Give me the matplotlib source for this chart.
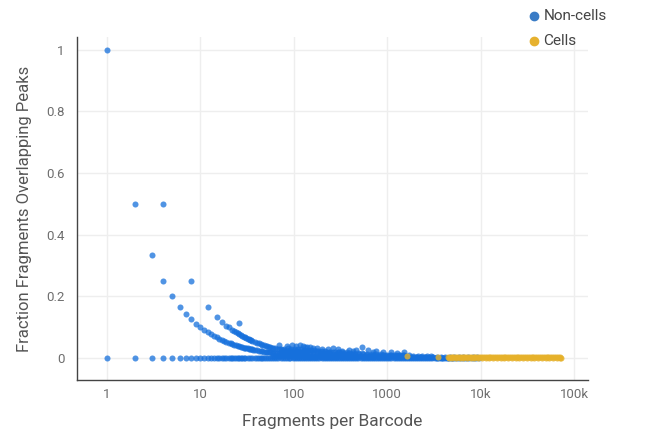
import matplotlib
matplotlib.use("Agg")
import matplotlib.pyplot as plt
from matplotlib.ticker import FixedLocator, NullLocator

plt.rcParams['font.family'] = ['Roboto', 'DejaVu Sans']

# =========================
# Données
# =========================

# Barcodes sans recouvrement (fraction = 0)
zero_x = [1, 2, 3, 4, 5, 6, 7, 8, 9, 10, 11, 12, 13, 14, 15, 16, 17, 18, 19, 20,
          21, 22, 23, 24, 25, 26, 27, 28, 29, 30, 32, 34, 36, 38, 40, 42, 44, 46,
          48, 50, 53, 56, 59, 62, 65, 68, 72, 76, 80, 84, 88, 92, 97, 102, 107,
          113, 119, 125, 132, 139, 146, 154, 162, 170, 179, 188, 198, 208, 219,
          230, 242, 255, 268, 282, 297, 312, 328, 345, 363, 382, 402, 423, 445,
          468, 492, 518, 545, 573, 603, 634, 667, 702, 738, 776, 816, 858, 903,
          950, 1000, 1050, 1110, 1170, 1230, 1290, 1360, 1430, 1500, 1580, 1660,
          1750, 1840, 1930, 2030, 2140, 2250, 2370, 2490, 2620, 2760, 2900, 3050,
          3210, 3380, 3550, 3740, 3930, 4130, 4350, 4570, 4810, 5060, 5320, 5600,
          5890, 6200, 6520, 6860, 7220, 7600, 8000, 8500, 9000, 9600]

# Points isolés (petits barcodes)
iso_x = [1, 2, 4, 3, 4, 8, 5, 6, 12, 7, 15, 8, 17, 9, 19, 26, 10, 20]
iso_y = [1.0, 0.5, 0.5, 0.333, 0.25, 0.25, 0.2, 0.167, 0.167, 0.143, 0.133,
         0.125, 0.118, 0.111, 0.105, 0.115, 0.1, 0.1]

# Courbe du bas (1 fragment dans un pic)
c1_x = [11, 12, 13, 14, 15, 16, 17, 18, 19, 20, 21, 22, 23, 24, 25, 26, 27, 28,
        29, 30, 31, 32, 33, 34, 35, 36, 37, 38, 40, 42, 44, 46, 48, 50, 52, 54,
        56, 58, 60, 63, 66, 69, 72, 75, 78, 82, 86, 90]
c1_y = [0.091, 0.083, 0.077, 0.071, 0.067, 0.063, 0.059, 0.056, 0.053, 0.05,
        0.048, 0.045, 0.043, 0.042, 0.04, 0.038, 0.037, 0.036, 0.034, 0.033,
        0.032, 0.031, 0.030, 0.029, 0.029, 0.028, 0.027, 0.026, 0.025, 0.024,
        0.023, 0.022, 0.021, 0.02, 0.019, 0.019, 0.018, 0.017, 0.017, 0.016,
        0.015, 0.014, 0.014, 0.013, 0.013, 0.012, 0.012, 0.011]

# Courbe du haut (2 fragments dans un pic)
c2_x = [22, 23, 24, 25, 26, 27, 28, 29, 30, 31, 32, 33, 34, 35, 36, 38, 40, 42,
        44, 46, 48, 50, 52, 54, 56, 58, 60, 63, 66, 69, 72, 75, 78, 82, 86, 90,
        95, 100, 105, 110, 116, 122, 130]
c2_y = [0.091, 0.087, 0.083, 0.08, 0.077, 0.074, 0.071, 0.069, 0.067, 0.065,
        0.063, 0.061, 0.059, 0.057, 0.056, 0.053, 0.05, 0.048, 0.045, 0.043,
        0.042, 0.04, 0.038, 0.037, 0.036, 0.034, 0.033, 0.032, 0.03, 0.029,
        0.028, 0.027, 0.026, 0.024, 0.023, 0.022, 0.021, 0.02, 0.019, 0.018,
        0.017, 0.016, 0.015]

# Nuage dense des non-cellules
blob_x = [60, 65, 70, 75, 80, 85, 90, 95, 100, 105, 110, 116, 122, 128, 135,
          142, 150, 160, 170, 180, 195, 210, 225, 240, 260, 280, 300, 330, 360,
          400, 440, 480, 530, 580, 640, 700, 770, 850, 940, 1040, 1150, 1270,
          1400, 1550, 1700, 1880, 2080, 2300, 2550, 2800, 3100, 3400, 3800,
          4200, 4700, 5200, 5800, 6500, 7300, 8200, 9200,
          72, 78, 84, 90, 96, 102, 108, 115, 123, 131, 140, 150, 162, 175, 190,
          205, 222, 240, 262, 285, 310, 340, 372, 410, 450, 495, 545, 600, 660,
          730, 810, 900, 1000, 1110, 1230, 1370, 1520, 1700, 1900, 2120, 2380,
          2650, 2950,
          78, 86, 94, 103, 112, 120, 130, 141, 152, 165, 180, 198, 218, 240, 265,
          295, 330, 370,
          70, 95, 116, 132, 150, 175, 265, 540, 910, 1280, 330, 430, 700,
          100, 115, 130, 150, 170, 195, 220, 250, 285, 325, 370, 420, 480, 545,
          620, 710, 810, 920, 1050, 1200, 1370, 1560, 1780, 2030, 2310, 2630,
          3000, 3420, 3900, 4450, 5000,
          90, 100, 112, 125, 140, 157, 176, 197, 220, 246, 275, 308, 345, 386,
          432, 484, 542, 607, 680, 760, 850, 950, 1060, 1190, 1330, 1490,
          85, 105, 125, 140, 160, 200, 230, 300, 390, 460, 620, 760, 1100, 1500]
blob_y = [0.006, 0.007, 0.008, 0.008, 0.009, 0.009, 0.009, 0.009, 0.009, 0.009,
          0.009, 0.009, 0.009, 0.009, 0.008, 0.008, 0.008, 0.008, 0.008, 0.008,
          0.008, 0.008, 0.007, 0.007, 0.007, 0.007, 0.007, 0.007, 0.007, 0.007,
          0.006, 0.006, 0.006, 0.006, 0.006, 0.006, 0.006, 0.005, 0.005, 0.005,
          0.005, 0.005, 0.005, 0.005, 0.004, 0.004, 0.004, 0.004, 0.004, 0.004,
          0.004, 0.003, 0.003, 0.003, 0.003, 0.003, 0.002, 0.002, 0.002, 0.002,
          0.002,
          0.016, 0.018, 0.019, 0.02, 0.02, 0.02, 0.02, 0.019, 0.019, 0.018,
          0.018, 0.017, 0.017, 0.016, 0.016, 0.015, 0.015, 0.015, 0.014, 0.014,
          0.014, 0.013, 0.013, 0.013, 0.012, 0.012, 0.012, 0.011, 0.011, 0.011,
          0.011, 0.01, 0.01, 0.01, 0.01, 0.009, 0.009, 0.009, 0.008, 0.008,
          0.008, 0.008, 0.007,
          0.03, 0.032, 0.03, 0.03, 0.029, 0.028, 0.027, 0.026, 0.026, 0.025,
          0.024, 0.023, 0.022, 0.021, 0.021, 0.02, 0.019, 0.018,
          0.042, 0.042, 0.041, 0.037, 0.035, 0.033, 0.031, 0.037, 0.02, 0.017,
          0.024, 0.022, 0.019,
          0.004, 0.004, 0.004, 0.004, 0.004, 0.004, 0.004, 0.004, 0.003, 0.003,
          0.003, 0.003, 0.003, 0.003, 0.003, 0.003, 0.003, 0.003, 0.003, 0.002,
          0.002, 0.002, 0.002, 0.002, 0.002, 0.002, 0.002, 0.001, 0.001, 0.001,
          0.001,
          0.025, 0.025, 0.024, 0.024, 0.023, 0.022, 0.022, 0.021, 0.02, 0.019,
          0.019, 0.018, 0.017, 0.017, 0.016, 0.015, 0.015, 0.014, 0.013, 0.013,
          0.012, 0.011, 0.011, 0.01, 0.009, 0.009,
          0.038, 0.04, 0.038, 0.036, 0.034, 0.03, 0.028, 0.03, 0.027, 0.025,
          0.026, 0.022, 0.019, 0.018]

# Cellules
cells_x = [1620, 3500,
           4500, 4700, 4900, 5100, 5300, 5600, 5800, 6100, 6400, 6700, 7000,
           7300, 7700, 8000, 8400, 8800, 9200, 9700, 10100, 10600, 11100, 11600,
           12200, 12700, 13300, 14000, 14600, 15300, 16000, 16800, 17600, 18400,
           19300, 20200, 21100, 22100, 23200, 24300, 25400, 26600, 27900, 29200,
           30600, 32000, 33500, 35100, 36800, 38500, 40300, 42200, 44200, 46300,
           48500, 50800, 53200, 55700, 58300, 61100, 64000, 67000, 70200, 73000,
           4600, 5000, 5450, 5950, 6550, 7150, 7850, 8600, 9450, 10350, 11350,
           12450, 13650, 14950, 16400, 18000, 19750, 21650, 23750, 26050, 28550,
           31300, 34300, 37650, 41250, 45250, 49600, 54400, 59650, 65400, 71000]
cells_y = [0.0075, 0.002,
           0.003, 0.002, 0.003, 0.003, 0.002, 0.003, 0.003, 0.002, 0.003,
           0.003, 0.002, 0.003, 0.003, 0.002, 0.003, 0.003, 0.002, 0.003,
           0.003, 0.002, 0.003, 0.003, 0.002, 0.003, 0.003, 0.002, 0.003,
           0.003, 0.002, 0.003, 0.003, 0.002, 0.003, 0.003, 0.002, 0.003,
           0.003, 0.002, 0.003, 0.002, 0.002, 0.003, 0.002, 0.002, 0.003,
           0.002, 0.002, 0.003, 0.002, 0.002, 0.002, 0.002, 0.002, 0.002,
           0.002, 0.002, 0.002, 0.002, 0.002, 0.002, 0.002, 0.001,
           0.0, 0.0, 0.0, 0.0, 0.0, 0.0, 0.0, 0.0, 0.0, 0.0, 0.0, 0.0, 0.0,
           0.0, 0.0, 0.0, 0.0, 0.0, 0.0, 0.0, 0.0, 0.0, 0.0, 0.0, 0.0, 0.0,
           0.0, 0.0, 0.0, 0.0, 0.0]

x_ticks = [1, 10, 100, 1000, 10000, 100000]
x_labels = ["1", "10", "100", "1000", "10k", "100k"]
y_ticks = [0, 0.2, 0.4, 0.6, 0.8, 1]
y_labels = ["0", "0.2", "0.4", "0.6", "0.8", "1"]

# ===================
# Affichage graphique
# ===================
bleu = "#1670dc"
jaune = "#e6b12a"

fig = plt.figure(figsize=(6.5, 4.3), dpi=100)
ax = fig.add_axes([0.1185, 0.1163, 0.786, 0.798])

nc_x = zero_x + iso_x + c1_x + c2_x + blob_x
nc_y = [0.0]*len(zero_x) + iso_y + c1_y + c2_y + blob_y
ax.scatter(nc_x, nc_y, s=19, color=bleu, alpha=0.75, linewidths=0, zorder=3)
ax.scatter(cells_x, cells_y, s=19, color=jaune, alpha=0.8, linewidths=0, zorder=4)

ax.set_xscale("log")
ax.set_xlim(0.477, 141000)
ax.set_ylim(-0.0714, 1.042)

ax.xaxis.set_major_locator(FixedLocator(x_ticks))
ax.xaxis.set_minor_locator(NullLocator())
ax.set_xticklabels(x_labels)
ax.set_yticks(y_ticks)
ax.set_yticklabels(y_labels)

ax.grid(True, color="#eeeeee", linewidth=1)
ax.set_axisbelow(True)
ax.tick_params(length=0, labelsize=9.5, labelcolor="#6e6e6e")
ax.tick_params(axis="x", pad=6)
ax.tick_params(axis="y", pad=9)
for s in ["top", "right"]:
    ax.spines[s].set_visible(False)
for s in ["left", "bottom"]:
    ax.spines[s].set_color("#444444")
    ax.spines[s].set_linewidth(1)

ax.set_xlabel("Fragments per Barcode", fontsize=12.5, color="#555555", labelpad=9)
ax.set_ylabel("Fraction Fragments Overlapping Peaks", fontsize=12, color="#555555", labelpad=10)

# Légende manuelle en haut à droite
fig.text(0.836, 0.963, "Non-cells", fontsize=11, color="#444444", va="center")
fig.text(0.836, 0.905, "Cells", fontsize=11, color="#444444", va="center")
fig.lines.append(plt.Line2D([0.821], [0.963], marker="o", markersize=6,
                            color="#3a7cc6", transform=fig.transFigure))
fig.lines.append(plt.Line2D([0.821], [0.905], marker="o", markersize=6,
                            color="#e6b12e", transform=fig.transFigure))

fig.savefig("out.png", dpi=100)
